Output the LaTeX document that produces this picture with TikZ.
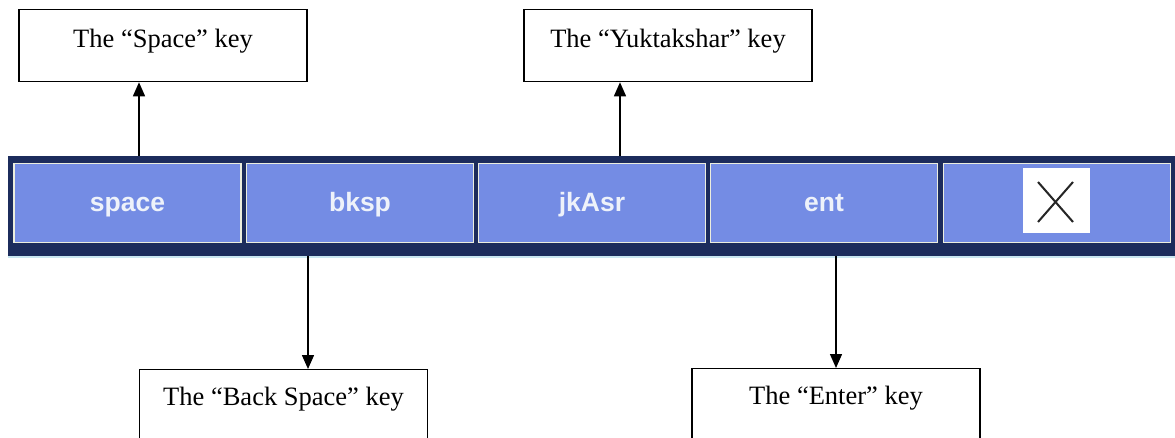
\documentclass[tikz,border=0pt]{standalone}
\usepackage{fontspec}
\setmainfont{Liberation Serif}
\newfontfamily\keyfont{Liberation Sans}
\usepackage{xcolor}
\usepackage{tikz}
\usetikzlibrary{arrows.meta,calc}
\definecolor{barnavy}{RGB}{28,44,92}
\definecolor{keyfill}{RGB}{116,140,228}
\definecolor{keyrim}{RGB}{236,238,222}
\definecolor{keytext}{RGB}{238,242,250}
\definecolor{barglow}{RGB}{200,230,240}
\tikzset{
  keybox/.style ={fill=keyfill, draw=keyrim, line width=1.6pt, minimum width=227pt,
                  minimum height=79pt, inner sep=0pt, text=keytext,
                  text height=30pt, text depth=12pt,
                  font=\keyfont\bfseries\fontsize{26.5}{26.5}\selectfont},
  callout/.style={draw=black, line width=1.3pt, minimum width=288pt, inner sep=0pt,
                  anchor=north, font=\fontsize{26.5}{27}\selectfont},
  calltop/.style={callout, text height=38pt, text depth=34pt},
  callbot/.style={callout, text height=36pt, text depth=44pt},
  ptr/.style    ={draw=black, line width=1.5pt, -{Triangle[length=14pt,width=12pt]}},
}

\begin{document}
\begin{tikzpicture}[x=1pt,y=-1pt]
  \path[use as bounding box,clip] (0,0) rectangle (1175,438);
  \fill[barglow] (8,254) rectangle (1175,258);
  \fill[barnavy] (8,156) rectangle (1175,256);
  \node[keybox] (space) at (127.5,203) {space};
  \node[keybox] (bksp) at (360,203) {bksp};
  \node[keybox] (jkasr) at (592,203) {jkAsr};
  \node[keybox] (ent) at (824,203) {ent};
  \node[keybox] (close) at (1057,203) {};
  \fill[white] (1023,168) rectangle (1090,233);
  \draw[black!85, line width=2pt] (1038,182) -- (1073,222);
  \draw[black!85, line width=2pt] (1038,222) -- (1073,182);
  \node[calltop] (spbox) at (163,9) {The ``Space'' key};
  \node[calltop] (ykbox) at (668,9) {The ``Yuktakshar'' key};
  \node[callbot] (bkbox) at (283.5,369) {The ``Back Space'' key};
  \node[callbot] (enbox) at (836,368) {The ``Enter'' key};
  \coordinate (spfoot) at (139,156);
  \coordinate (ykfoot) at (620,156);
  \coordinate (bkfoot) at (308,256);
  \coordinate (enfoot) at (836,256);
  \draw[ptr] (spfoot) -- (spfoot |- spbox.south);
  \draw[ptr] (ykfoot) -- (ykfoot |- ykbox.south);
  \draw[ptr] (bkfoot) -- (bkfoot |- bkbox.north);
  \draw[ptr] (enfoot) -- (enfoot |- enbox.north);
\end{tikzpicture}
\end{document}
